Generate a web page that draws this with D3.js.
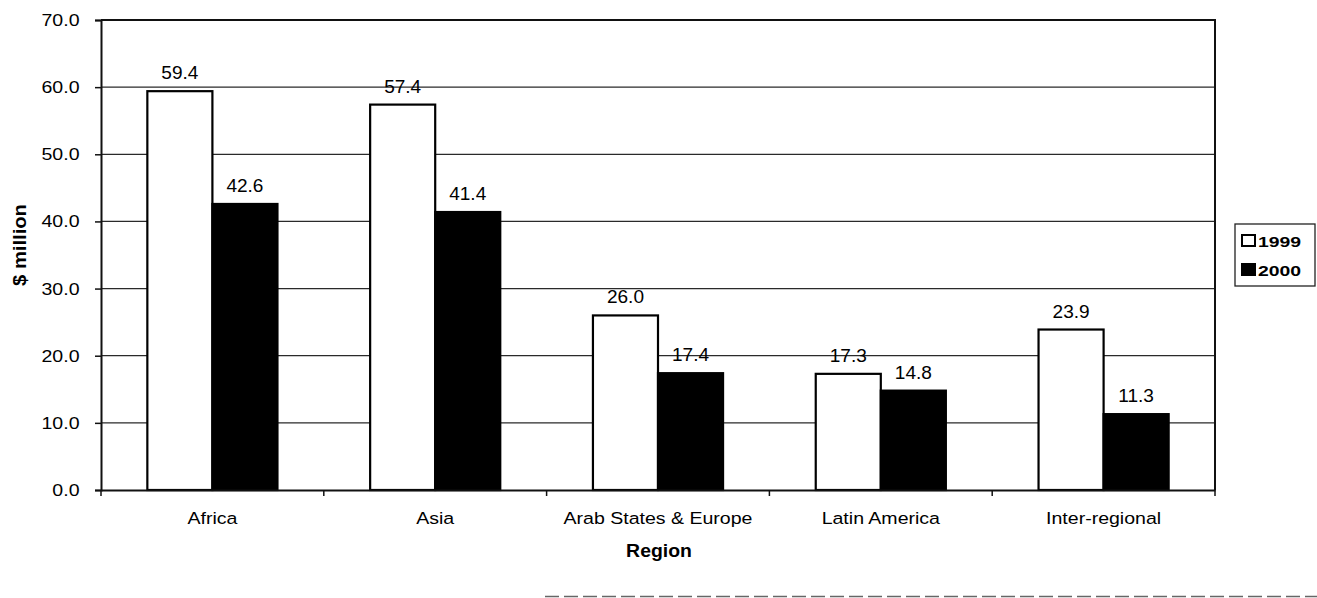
<!DOCTYPE html>
<html>
<head>
<meta charset="utf-8">
<script src="https://cdn.jsdelivr.net/npm/d3@7"></script>
<style>
  html, body { margin: 0; padding: 0; background: #fff; }
  svg { display: block; font-family: Arial, "Liberation Sans", sans-serif; }
</style>
</head>
<body>
<svg id="chart" width="1317" height="598"></svg>
<script>
// Funding by region, $ million
const regions = ["Africa", "Asia", "Arab States & Europe", "Latin America", "Inter-regional"];
const years = ["1999", "2000"];
const values1999 = [59.4, 57.4, 26.0, 17.3, 23.9];
const values2000 = [42.6, 41.4, 17.4, 14.8, 11.3];
const yTicks = [0, 10, 20, 30, 40, 50, 60, 70];

const seriesValues = [values1999, values2000];
const fills = ["#ffffff", "#000000"];

const svg = d3.select("#chart");
const plot = { left: 101, right: 1215, top: 20, bottom: 490 };

const x0 = d3.scaleBand().domain(regions).range([plot.left, plot.right]).padding(0);
const groupPad = x0.bandwidth() * 0.208;
const x1 = d3.scaleBand().domain(years)
  .range([groupPad, x0.bandwidth() - groupPad]).padding(0);
const y = d3.scaleLinear().domain([0, 70]).range([plot.bottom, plot.top]);

// horizontally widened text, anchored at (x, y)
function label(parent, x, yPos, text, opts) {
  const o = Object.assign({ size: 17, weight: "normal", anchor: "middle", sx: 1.15, rotate: 0 }, opts || {});
  return parent.append("text")
    .attr("transform", `translate(${x},${yPos}) rotate(${o.rotate}) scale(${o.sx},1)`)
    .attr("text-anchor", o.anchor)
    .attr("font-size", o.size)
    .attr("font-weight", o.weight)
    .attr("fill", "#000")
    .text(text);
}

// gridlines
svg.append("g")
  .selectAll("line")
  .data(yTicks.filter(d => d > 0 && d < 70))
  .join("line")
  .attr("x1", plot.left).attr("x2", plot.right)
  .attr("y1", d => y(d)).attr("y2", d => y(d))
  .attr("stroke", "#2a2a2a").attr("stroke-width", 1.2);

// plot frame (top, right)
svg.append("path")
  .attr("d", `M${plot.left},${y(70)}H${plot.right}V${plot.bottom}`)
  .attr("fill", "none").attr("stroke", "#111").attr("stroke-width", 2);

// bars
const groups = svg.append("g").selectAll("g")
  .data(regions)
  .join("g")
  .attr("transform", d => `translate(${x0(d)},0)`);

groups.selectAll("rect")
  .data((d, i) => years.map((yr, s) => ({ yr, s, v: seriesValues[s][i] })))
  .join("rect")
  .attr("x", d => x1(d.yr))
  .attr("y", d => y(d.v))
  .attr("width", x1.bandwidth())
  .attr("height", d => y(0) - y(d.v))
  .attr("fill", d => fills[d.s])
  .attr("stroke", "#000")
  .attr("stroke-width", 2.2);

// value labels
groups.each(function (d, i) {
  const g = d3.select(this);
  years.forEach((yr, s) => {
    const v = seriesValues[s][i];
    label(g, x1(yr) + x1.bandwidth() / 2, y(v) - 12, v.toFixed(1), { size: 18.5, sx: 1.03 });
  });
});

// y axis
const yAxis = d3.axisLeft(y).tickValues(yTicks).tickSize(6).tickFormat("");
const yg = svg.append("g").attr("transform", `translate(${plot.left},0)`).call(yAxis);
yg.select(".domain").attr("stroke", "#111").attr("stroke-width", 2);
yg.selectAll(".tick line").attr("stroke", "#111").attr("stroke-width", 1.5);
yTicks.forEach(t => label(svg, 79.5, y(t) + 6, d3.format(".1f")(t), { anchor: "end", size: 17 }));

// x axis
const xAxis = d3.axisBottom(x0).tickSize(0).tickFormat("");
const xg = svg.append("g").attr("transform", `translate(0,${plot.bottom})`).call(xAxis);
xg.select(".domain").attr("stroke", "#111").attr("stroke-width", 2);
xg.selectAll(".tick").remove();
svg.append("g").selectAll("line")
  .data(regions.map(r => x0(r)).concat([plot.right]))
  .join("line")
  .attr("x1", d => d).attr("x2", d => d)
  .attr("y1", plot.bottom).attr("y2", plot.bottom + 6)
  .attr("stroke", "#111").attr("stroke-width", 1.5);
regions.forEach(r => label(svg, x0(r) + x0.bandwidth() / 2, 523.5, r, { size: 17 }));

// axis titles
label(svg, 659, 557, "Region", { size: 18.5, weight: "bold", sx: 1.05 });
label(svg, 26, 245, "$ million", { size: 18, weight: "bold", sx: 1.12, rotate: -90 });

// legend
const lg = svg.append("g");
lg.append("rect")
  .attr("x", 1235).attr("y", 224).attr("width", 80).attr("height", 62)
  .attr("fill", "#fff").attr("stroke", "#222").attr("stroke-width", 1.3);
years.forEach((yr, s) => {
  const ly = 235 + s * 29;
  lg.append("rect")
    .attr("x", 1242).attr("y", ly).attr("width", 13).attr("height", 11)
    .attr("fill", fills[s]).attr("stroke", "#000").attr("stroke-width", 2);
  label(lg, 1258, ly + 11.5, yr, { anchor: "start", size: 15.5, weight: "bold", sx: 1.25 });
});

// rule along the bottom of the page
svg.append("line")
  .attr("x1", 545).attr("x2", 1317).attr("y1", 596.5).attr("y2", 596.5)
  .attr("stroke", "#666").attr("stroke-width", 1.5).attr("stroke-dasharray", "14,5");
</script>
</body>
</html>
